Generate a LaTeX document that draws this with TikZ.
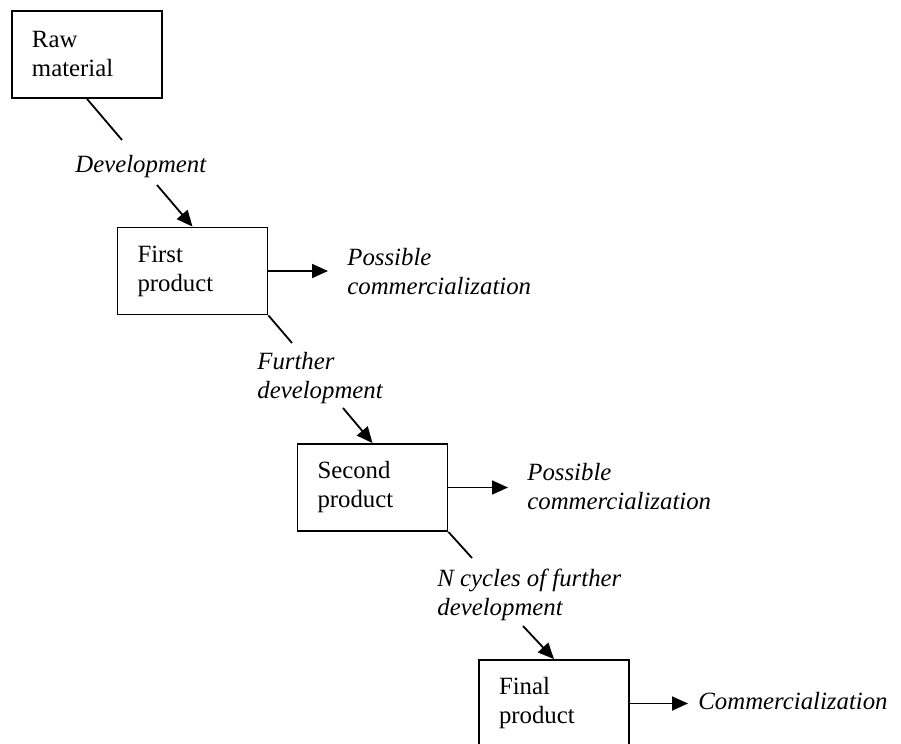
\documentclass[tikz,border=0pt]{standalone}
\usepackage{fontspec}
\setmainfont{Liberation Serif}
\usetikzlibrary{arrows.meta, positioning, calc}

\tikzset{
  stage/.style={draw, line width=0.9pt, minimum width=75pt, minimum height=43.5pt,
    text width=55pt, inner xsep=10pt, align=left},
  phase/.style={font=\fontsize{12.4pt}{14.5pt}\selectfont\itshape, inner sep=0pt, align=left, anchor=west},
  link/.style={line width=0.9pt},
  arr/.style={line width=0.9pt, -{Triangle[length=8pt,width=7pt]}}
}

\begin{document}
\begin{tikzpicture}[x=0.5pt, y=-0.5pt, font=\fontsize{12.4pt}{14.5pt}\selectfont]
  \useasboundingbox (0,0) rectangle (901,744);
  % product stages
  \node[stage] (raw) at (87,54.5) {Raw\\material};
  \node[stage] (first) at (192.5,271) {First\\product};
  \node[stage] (second) at (372.5,487.5) {Second\\product};
  \node[stage] (final) at (554,703.5) {Final\\product};
  % development steps and outcomes
  \node[phase] (dev) at (75,166.3) {Development};
  \node[phase] (fdev) at (257,377.8) {Further\\development};
  \node[phase] (ncyc) at (437,594.8) {N cycles of further\\development};
  \node[phase] (pc1) at (347,271.8) {Possible\\commercialization};
  \node[phase] (pc2) at (527,486.8) {Possible\\commercialization};
  \node[phase] (comm) at (698,701) {Commercialization};
  % free ends of the diagonal connectors
  \coordinate (d1a) at (122,140);
  \coordinate (d1b) at (157,185);
  \coordinate (d2a) at (292,343);
  \coordinate (d2b) at (343,408);
  \coordinate (d3a) at (472,558);
  \coordinate (d3b) at (523,626);
  \draw[link] (raw.south) -- (d1a);
  \draw[arr] (d1b) -- (first.north);
  \draw[link] (first.south east) -- (d2a);
  \draw[arr] (d2b) -- (second.north);
  \draw[link] (second.south east) -- (d3a);
  \draw[arr] (d3b) -- (final.north);
  % outcomes
  \draw[arr, shorten >=9.5pt] (first.east) -- (first.east -| pc1.west);
  \draw[arr, shorten >=9.5pt] (second.east) -- (second.east -| pc2.west);
  \draw[arr, shorten >=5pt] (final.east) -- (final.east -| comm.west);
\end{tikzpicture}
\end{document}
